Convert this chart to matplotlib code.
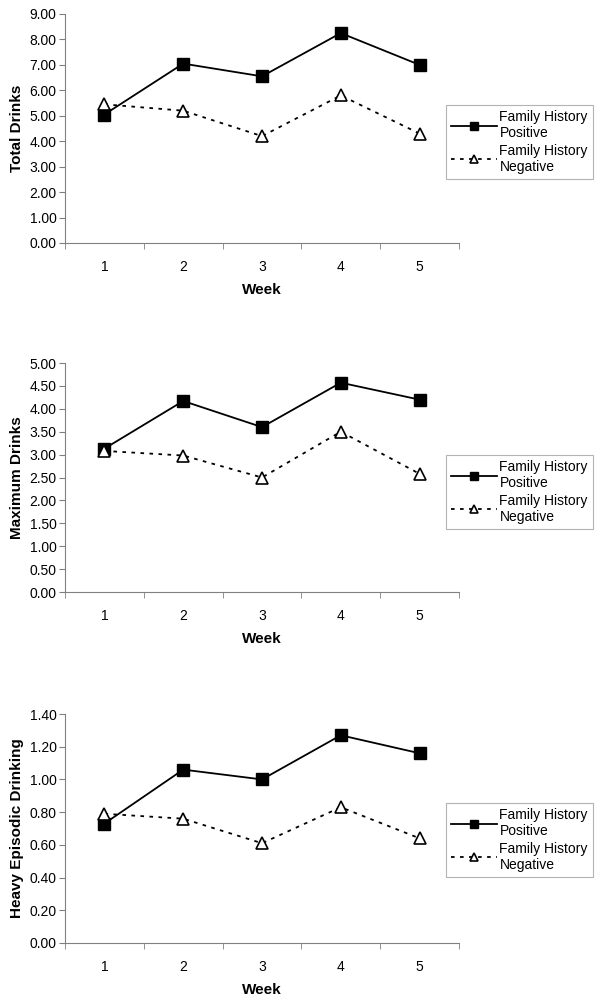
import matplotlib
matplotlib.use("Agg")
import matplotlib.pyplot as plt

plt.rcParams['font.family'] = ['Liberation Sans', 'DejaVu Sans']

weeks = [1, 2, 3, 4, 5]

total_pos = [5.05, 7.05, 6.55, 8.25, 7.00]
total_neg = [5.45, 5.20, 4.20, 5.80, 4.30]

max_pos = [3.13, 4.17, 3.60, 4.57, 4.20]
max_neg = [3.08, 2.98, 2.50, 3.50, 2.58]

hed_pos = [0.73, 1.06, 1.00, 1.27, 1.16]
hed_neg = [0.79, 0.76, 0.61, 0.83, 0.64]

labels = ["Family History\nPositive", "Family History\nNegative"]

panels = [
    ("Total Drinks", total_pos, total_neg, 9.0, 1.0),
    ("Maximum Drinks", max_pos, max_neg, 5.0, 0.5),
    ("Heavy Episodic Drinking", hed_pos, hed_neg, 1.4, 0.2),
]

fig = plt.figure(figsize=(6.03, 9.98), dpi=100)
W, H = 603.0, 998.0
# pixel boxes (top, bottom) of each plot area, and legend box tops
tops = [(14, 243), (363, 592), (714, 943)]
legend_tops = [105, 455, 803]
left, right = 65, 459

for (ylab, pos, neg, ymax, step), (t, b), lt in zip(panels, tops, legend_tops):
    ax = fig.add_axes([left / W, 1 - b / H, (right - left) / W, (b - t) / H])
    l1, = ax.plot(weeks, pos, color='black', lw=1.3, marker='s', ms=9,
                  mfc='black', mec='black', label=labels[0])
    l2, = ax.plot(weeks, neg, color='black', lw=1.3, ls=(0, (2, 3)), marker='^',
                  ms=9, mfc='white', mec='black', mew=1.2, label=labels[1])
    ax.set_xlim(0.5, 5.5)
    ax.set_ylim(0, ymax)
    n = int(round(ymax / step))
    ax.set_yticks([i * step for i in range(n + 1)])
    ax.set_yticklabels(['%.2f' % (i * step) for i in range(n + 1)])
    ax.set_xticks(weeks)
    ax.set_xticks([0.5 + i for i in range(6)], minor=True)
    ax.tick_params(axis='x', which='major', length=0, pad=12, labelsize=10)
    ax.tick_params(axis='x', which='minor', length=4, color='#808080', direction='out')
    ax.tick_params(axis='y', length=4, color='#808080', labelsize=10, pad=2)
    for s in ['top', 'right']:
        ax.spines[s].set_visible(False)
    for s in ['left', 'bottom']:
        ax.spines[s].set_color('#808080')
        ax.spines[s].set_linewidth(0.8)
    ax.set_ylabel(ylab, fontsize=11, fontweight='bold', labelpad=4)
    ax.set_xlabel('Week', fontsize=11, fontweight='bold', labelpad=7)
    leg = fig.legend(handles=[l1, l2], loc='upper left',
                     bbox_to_anchor=(446 / W, 1 - lt / H), frameon=True,
                     fancybox=False, edgecolor='#a0a0a0', fontsize=10,
                     handlelength=3.3, borderpad=0.35, labelspacing=0.25,
                     handletextpad=0.2, borderaxespad=0)
    leg.get_frame().set_linewidth(0.8)
    for h in leg.legend_handles:
        h.set_markersize(6)

fig.savefig("out.png", dpi=100)
